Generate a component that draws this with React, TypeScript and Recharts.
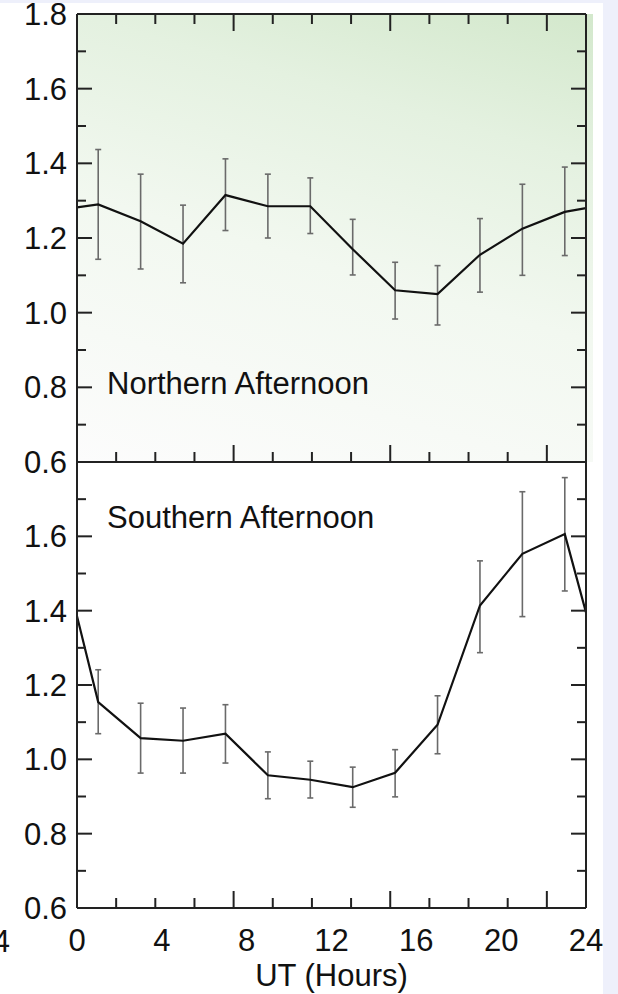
import React from 'react';
import { LineChart, Line, XAxis, YAxis, ErrorBar } from 'recharts';

// UT hours (0 and 24 are wrap-around line ends without error bars)
const hours = [0, 1, 3, 5, 7, 9, 11, 13, 15, 17, 19, 21, 23, 24];

const northMean = [1.282, 1.29, 1.245, 1.185, 1.315, 1.285, 1.285, 1.17, 1.06, 1.05, 1.155, 1.225, 1.27, 1.28];
const northLow = [null, 1.143, 1.117, 1.08, 1.22, 1.2, 1.212, 1.101, 0.983, 0.967, 1.055, 1.1, 1.153, null];
const northHigh = [null, 1.437, 1.371, 1.288, 1.412, 1.371, 1.361, 1.25, 1.135, 1.126, 1.252, 1.344, 1.39, null];

const southMean = [1.385, 1.154, 1.057, 1.05, 1.069, 0.957, 0.945, 0.925, 0.964, 1.093, 1.414, 1.553, 1.606, 1.395];
const southLow = [null, 1.069, 0.963, 0.963, 0.99, 0.894, 0.896, 0.871, 0.899, 1.015, 1.287, 1.384, 1.453, null];
const southHigh = [null, 1.241, 1.151, 1.138, 1.147, 1.02, 0.995, 0.979, 1.026, 1.171, 1.534, 1.72, 1.758, null];

const xLabelTicks = [0, 4, 8, 12, 16, 20, 24];
const xMajorTicks = [4, 8, 12, 16, 20];
const xMinorTicks = [1, 2, 3, 5, 6, 7, 9, 10, 11, 13, 14, 15, 17, 18, 19, 21, 22, 23];
const northYLabels = [0.6, 0.8, 1.0, 1.2, 1.4, 1.6, 1.8];
const southYLabels = [0.6, 0.8, 1.0, 1.2, 1.4, 1.6];
const yMajorTicks = [0.8, 1.0, 1.2, 1.4, 1.6];
const yMinorTicks = [0.7, 0.9, 1.1, 1.3, 1.5, 1.7];

const panelTitles = ['Northern Afternoon', 'Southern Afternoon'];
const xAxisTitle = 'UT (Hours)';

type Row = { h: number; v: number; err?: number[] };
function build(mean: number[], low: (number | null)[], high: (number | null)[]): Row[] {
  return hours.map((h, i) => {
    const lo = low[i];
    const hi = high[i];
    const row: Row = { h, v: mean[i] };
    if (lo != null && hi != null) row.err = [mean[i] - lo, hi - mean[i]];
    return row;
  });
}

const northData = build(northMean, northLow, northHigh);
const southData = build(southMean, southLow, southHigh);

const FONT = '"Liberation Sans", Arial, Helvetica, sans-serif';
const AX = '#222';
const tickText = { fontSize: 31, fill: '#111', fontFamily: FONT };
const lineStyle = { stroke: AX, strokeWidth: 2 };
const Y_DOMAIN: [number, number] = [0.6, 1.8];
const X_DOMAIN: [number, number] = [0, 24];

const NoLabel = () => <g />;

function tickAxesY() {
  return [
    <YAxis key="lM" yAxisId="lM" orientation="left" mirror width={1} type="number" domain={Y_DOMAIN} allowDataOverflow ticks={yMajorTicks} interval={0} tick={NoLabel} tickSize={15} tickLine={lineStyle} axisLine={false} />,
    <YAxis key="lm" yAxisId="lm" orientation="left" mirror width={1} type="number" domain={Y_DOMAIN} allowDataOverflow ticks={yMinorTicks} interval={0} tick={NoLabel} tickSize={8} tickLine={lineStyle} axisLine={false} />,
    <YAxis key="rM" yAxisId="rM" orientation="right" mirror width={1} type="number" domain={Y_DOMAIN} allowDataOverflow ticks={yMajorTicks} interval={0} tick={NoLabel} tickSize={15} tickLine={lineStyle} axisLine={lineStyle} />,
    <YAxis key="rm" yAxisId="rm" orientation="right" mirror width={1} type="number" domain={Y_DOMAIN} allowDataOverflow ticks={yMinorTicks} interval={0} tick={NoLabel} tickSize={8} tickLine={lineStyle} axisLine={false} />,
  ];
}

function tickAxesX(orientation: 'top' | 'bottom', prefix: string) {
  return [
    <XAxis key={prefix + 'M'} xAxisId={prefix + 'M'} orientation={orientation} mirror height={1} type="number" domain={X_DOMAIN} allowDataOverflow ticks={xMajorTicks} interval={0} tick={NoLabel} tickSize={17} tickLine={lineStyle} axisLine={lineStyle} />,
    <XAxis key={prefix + 'm'} xAxisId={prefix + 'm'} orientation={orientation} mirror height={1} type="number" domain={X_DOMAIN} allowDataOverflow ticks={xMinorTicks} interval={0} tick={NoLabel} tickSize={9} tickLine={lineStyle} axisLine={false} />,
  ];
}

const fmt = (v: number) => v.toFixed(1);

export default function App() {
  return (
    <div style={{ position: 'absolute', left: 0, top: 0, width: 618, height: 994, background: '#eef0fb', overflow: 'hidden' }}>
      <div style={{ position: 'absolute', left: 0, top: 3, width: 603, height: 991, background: '#ffffff' }} />
      <div
        style={{
          position: 'absolute',
          left: 77,
          top: 14,
          width: 516,
          height: 448,
          background: 'linear-gradient(196deg, #d3e8cc 0%, #e4f1e0 25%, #f2f8f0 55%, #fcfcfc 100%)',
        }}
      />
      {/* Top panel */}
      <div style={{ position: 'absolute', left: 0, top: 0 }}>
        <LineChart width={618} height={490} data={northData} margin={{ top: 14, right: 32, bottom: 28, left: 0 }}>
          <XAxis xAxisId="x" dataKey="h" type="number" domain={X_DOMAIN} allowDataOverflow hide />
          <YAxis yAxisId="y" type="number" domain={Y_DOMAIN} allowDataOverflow ticks={northYLabels} interval={0} width={77} tickSize={0} tickMargin={10} tickLine={false} axisLine={lineStyle} tick={tickText} tickFormatter={fmt} />
          {tickAxesY()}
          {tickAxesX('top', 't')}
          {tickAxesX('bottom', 'b')}
          <Line xAxisId="x" yAxisId="y" dataKey="v" stroke="#111" strokeWidth={2.2} dot={false} isAnimationActive={false}>
            <ErrorBar dataKey="err" direction="y" width={3} stroke="#6a6a6a" strokeWidth={1.6} isAnimationActive={false} />
          </Line>
        </LineChart>
      </div>
      {/* Bottom panel */}
      <div style={{ position: 'absolute', left: 0, top: 454 }}>
        <LineChart width={618} height={540} data={southData} margin={{ top: 8, right: 32, bottom: 0, left: 0 }}>
          <XAxis
            xAxisId="x"
            dataKey="h"
            type="number"
            domain={X_DOMAIN}
            allowDataOverflow
            ticks={xLabelTicks}
            interval={0}
            height={86}
            tickSize={0}
            tickMargin={21}
            tickLine={false}
            axisLine={false}
            tick={tickText}
            label={{ value: xAxisTitle, position: 'insideBottom', offset: 8, fontSize: 31, fill: '#111', fontFamily: FONT }}
          />
          <YAxis yAxisId="y" type="number" domain={Y_DOMAIN} allowDataOverflow ticks={southYLabels} interval={0} width={77} tickSize={0} tickMargin={10} tickLine={false} axisLine={lineStyle} tick={tickText} tickFormatter={fmt} />
          {tickAxesY()}
          {tickAxesX('bottom', 'b')}
          <Line xAxisId="x" yAxisId="y" dataKey="v" stroke="#111" strokeWidth={2.2} dot={false} isAnimationActive={false}>
            <ErrorBar dataKey="err" direction="y" width={3} stroke="#6a6a6a" strokeWidth={1.6} isAnimationActive={false} />
          </Line>
        </LineChart>
      </div>
      <svg width={618} height={994} style={{ position: 'absolute', left: 0, top: 0, pointerEvents: 'none' }}>
        <text x={107} y={394} fontSize={31} fill="#111" fontFamily={FONT}>{panelTitles[0]}</text>
        <text x={107} y={528} fontSize={31} fill="#111" fontFamily={FONT}>{panelTitles[1]}</text>
        <text x={10} y={952} fontSize={31} fill="#111" fontFamily={FONT} textAnchor="end">24</text>
      </svg>
    </div>
  );
}
